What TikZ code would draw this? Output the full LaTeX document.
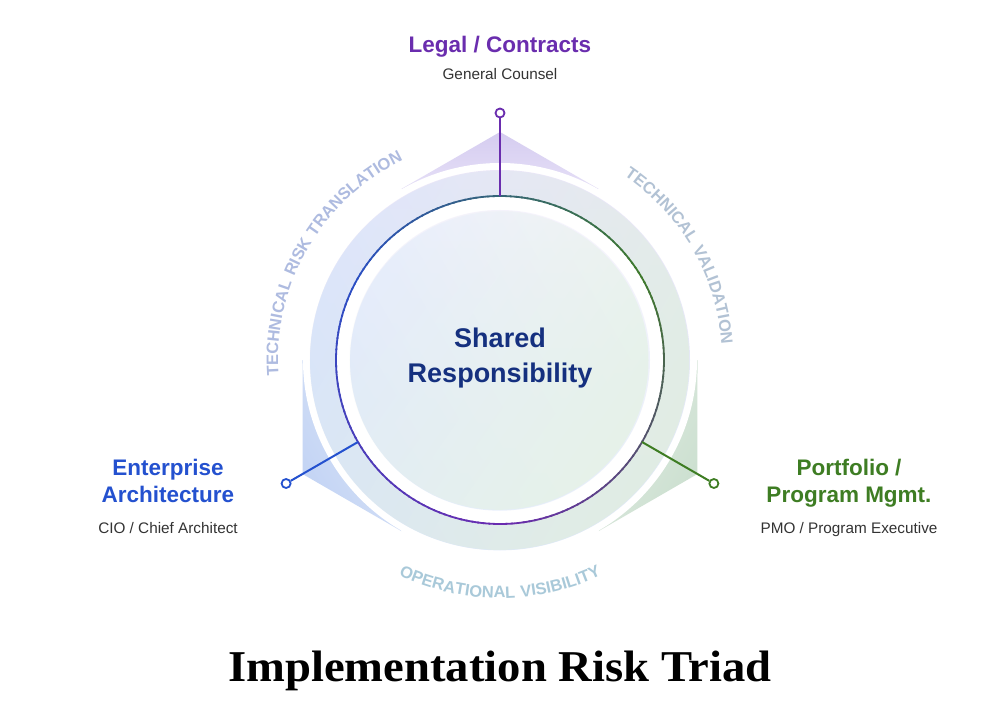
\documentclass[tikz,border=0pt]{standalone}
\usepackage{fontspec}
\setmainfont{Liberation Sans}
\newfontfamily\titlefont{Liberation Serif}
\newfontfamily\arcfam{Liberation Sans}[LetterSpace=7]
\usetikzlibrary{decorations.text,fadings}

\definecolor{cPurple}{HTML}{6A2DAE}
\definecolor{cBlue}{HTML}{2451CF}
\definecolor{cGreen}{HTML}{3E7D23}
\definecolor{cSub}{HTML}{333333}
\definecolor{cNavy}{HTML}{15307F}
\definecolor{sGreen}{HTML}{3F7A2C}
\definecolor{sBlue}{HTML}{2B4FC4}
\definecolor{sPurple}{HTML}{6A2BB0}
\definecolor{wTopA}{HTML}{D5CCF0}
\definecolor{wTopB}{HTML}{E6E0F7}
\definecolor{wLeftA}{HTML}{C2D3F4}
\definecolor{wLeftB}{HTML}{DCE6F8}
\definecolor{wRightA}{HTML}{CBDFCF}
\definecolor{wRightB}{HTML}{E1ECE3}
\definecolor{dTop}{HTML}{ECE7FA}
\definecolor{dBot}{HTML}{E2ECF5}
\definecolor{dBlue}{HTML}{D9E5FB}
\definecolor{dGreen}{HTML}{E1EDE4}
\definecolor{iTop}{HTML}{F6F4FD}
\definecolor{iBot}{HTML}{EAF1F8}
\definecolor{iBlue}{HTML}{E2EBFB}
\definecolor{iGreen}{HTML}{E6F2E9}
\definecolor{tLeft}{HTML}{AEBBE0}
\definecolor{tRight}{HTML}{B2C2D4}
\definecolor{tBottom}{HTML}{A9C9D9}

\tikzfading[name=fromLeft, left color=transparent!0, right color=transparent!100]
\tikzfading[name=fromRight, left color=transparent!100, right color=transparent!0]

\newcommand{\arcfont}{\arcfam\fontsize{16.5}{17}\selectfont\bfseries}

\begin{document}
\begin{tikzpicture}[x=1pt,y=1pt,
  dotnode/.style={circle, line width=1.8pt, fill=white, minimum size=9pt, inner sep=0pt},
  conn/.style={line width=2pt},
  headbold/.style={font=\fontsize{22.5}{26}\selectfont\bfseries, anchor=base},
  subtext/.style={font=\fontsize{15.3}{18}\selectfont, text=cSub, anchor=base},
  centertext/.style={font=\fontsize{27}{30}\selectfont\bfseries, text=cNavy, anchor=base},
  arclabel/.style={decorate, decoration={text along path, text align=center, text={|\arcfont|#1}}}
]
\fill[white] (-500,-360) rectangle (500,360);
\useasboundingbox (-500,-360) rectangle (500,360);

% wedges
\shade[top color=wTopA, bottom color=wTopB] (90:228) -- (60:197.5) -- (120:197.5) -- cycle;
\shade[top color=wLeftA, bottom color=wLeftB, shading angle=120] (210:228) -- (180:197.5) -- (240:197.5) -- cycle;
\shade[top color=wRightA, bottom color=wRightB, shading angle=240] (330:228) -- (300:197.5) -- (360:197.5) -- cycle;

% white ring and outer disc
\fill[white] (0,0) circle[radius=197];
\shade[top color=dTop, bottom color=dBot] (0,0) circle[radius=190];
\fill[dBlue, path fading=fromLeft, fading angle=30] (0,0) circle[radius=190];
\fill[dGreen, path fading=fromRight, fading angle=-30] (0,0) circle[radius=190];

% inner white ring and inner disc
\fill[white] (0,0) circle[radius=164];
\shade[top color=iTop, bottom color=iBot] (0,0) circle[radius=150];
\fill[iBlue, path fading=fromLeft, fading angle=30] (0,0) circle[radius=150];
\fill[iGreen, path fading=fromRight, fading angle=-35] (0,0) circle[radius=150];

% gradient ring stroke
\foreach \a in {0,2,...,118} {
  \pgfmathsetmacro{\p}{\a/1.2}
  \draw[line width=1.8pt, color=sBlue!\p!sGreen] (30+\a:164) arc[start angle=30+\a, end angle=32.6+\a, radius=164];
  \draw[line width=1.8pt, color=sPurple!\p!sBlue] (150+\a:164) arc[start angle=150+\a, end angle=152.6+\a, radius=164];
  \draw[line width=1.8pt, color=sGreen!\p!sPurple] (270+\a:164) arc[start angle=270+\a, end angle=272.6+\a, radius=164];
}

% attachment points and dots
\coordinate (aTop) at (90:164);
\coordinate (aLeft) at (210:164);
\coordinate (aRight) at (330:164);
\node[dotnode, draw=cPurple] (dTopN) at (90:247) {};
\node[dotnode, draw=cBlue] (dLeftN) at (210:247) {};
\node[dotnode, draw=cGreen] (dRightN) at (330:247) {};
\draw[conn, cPurple] (dTopN) -- (aTop);
\draw[conn, cBlue] (dLeftN) -- (aLeft);
\draw[conn, cGreen] (dRightN) -- (aRight);

% curved labels
\path[arclabel=TECHNICAL RISK TRANSLATION, decoration={text color=tLeft}] (200:222) arc[start angle=200, end angle=100, radius=222];
\path[arclabel=TECHNICAL VALIDATION, decoration={text color=tRight}] (80:222) arc[start angle=80, end angle=-20, radius=222];
\path[arclabel=OPERATIONAL VISIBILITY, decoration={text color=tBottom}] (220:238) arc[start angle=220, end angle=320, radius=238];

% center text
\node[centertext] (c1) at (0,13) {Shared};
\node[centertext] (c2) at (0,-22) {Responsibility};

% role labels
\node[headbold, text=cPurple] (legal) at (0,307) {Legal / Contracts};
\node[subtext] (legalsub) at (0,280) {General Counsel};

\node[headbold, text=cBlue] (ent1) at (-332,-115) {Enterprise};
\node[headbold, text=cBlue] (ent2) at (-332,-142) {Architecture};
\node[subtext] (entsub) at (-332,-173) {CIO / Chief Architect};

\node[headbold, text=cGreen] (pf1) at (349,-115) {Portfolio /};
\node[headbold, text=cGreen] (pf2) at (349,-142) {Program Mgmt.};
\node[subtext] (pfsub) at (349,-173) {PMO / Program Executive};

% title
\node[font=\titlefont\fontsize{44}{48}\selectfont\bfseries, anchor=base] (title) at (0,-321) {\scalebox{1.06}[1]{Implementation Risk Triad}};
\end{tikzpicture}
\end{document}
